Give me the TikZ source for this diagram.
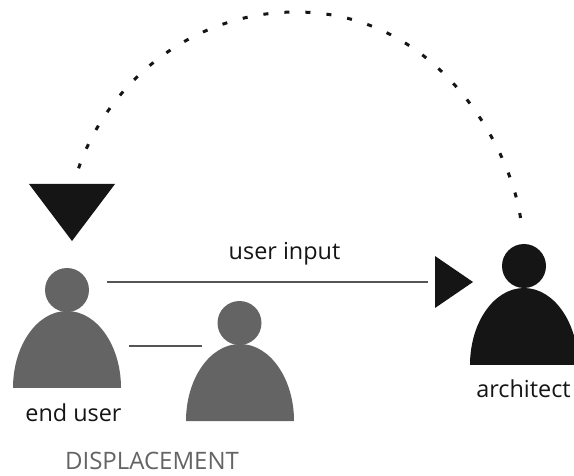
\documentclass[tikz,border=0pt]{standalone}
\usepackage{fontspec}
\setmainfont{Open Sans}
\definecolor{ink}{HTML}{151515}
\definecolor{pgray}{HTML}{646464}
\definecolor{lgray}{HTML}{555555}
\tikzset{
  head/.style={circle,minimum size=44pt,inner sep=0pt,fill=#1},
  lab/.style={font=\fontsize{23.4pt}{25pt}\selectfont,text=ink,inner sep=0pt},
  link/.style={draw=lgray,line width=1.8pt},
  feedback/.style={draw=ink,line width=3pt,dash pattern=on 5pt off 16.07pt}
}
\newcommand{\bodyshape}[3]{\fill[#3] (#1-54pt,#2) arc[start angle=180,end angle=0,x radius=54pt,y radius=77pt] -- cycle;}
\begin{document}
\begin{tikzpicture}[x=1pt,y=-1pt]
\useasboundingbox (0,0) rectangle (574,476);
\fill[white] (0,0) rectangle (574,476);
% persons
\bodyshape{67pt}{-388pt}{pgray}
\node[head=pgray] (endhead) at (67,290) {};
\bodyshape{240pt}{-421pt}{pgray}
\node[head=pgray] (dishead) at (239.5,323) {};
\bodyshape{524pt}{-365pt}{ink}
\node[head=ink] (archhead) at (524,266) {};
% connectors
\coordinate (inA) at (107,282);
\coordinate (inB) at (428,282);
\coordinate (disA) at (129,346);
\coordinate (disB) at (202,346);
\draw[link] (inA) -- (inB);
\draw[link] (disA) -- (disB);
% triangles
\coordinate (t1a) at (29,184); \coordinate (t1b) at (115,184); \coordinate (t1c) at (72,241);
\coordinate (t2a) at (435,256); \coordinate (t2b) at (435,308); \coordinate (t2c) at (473,282);
\fill[ink] (t1a) -- (t1b) -- (t1c) -- cycle;
\fill[ink] (t2a) -- (t2b) -- (t2c) -- cycle;
% feedback arc
\draw[feedback] (520.5,218) .. controls (511,150) and (440,12) .. (296,12) .. controls (190,12) and (105,85) .. (77,173);
% labels
\node[lab] (userinput) at (284.5,254) {user input};
\node[lab] (enduser) at (73.5,413) {end user};
\node[lab] (architect) at (523.5,389) {architect};
\node[lab,text=pgray,font=\fontsize{24pt}{26pt}\selectfont] (disp) at (152,460.5) {DISPLACEMENT};
\end{tikzpicture}
\end{document}
